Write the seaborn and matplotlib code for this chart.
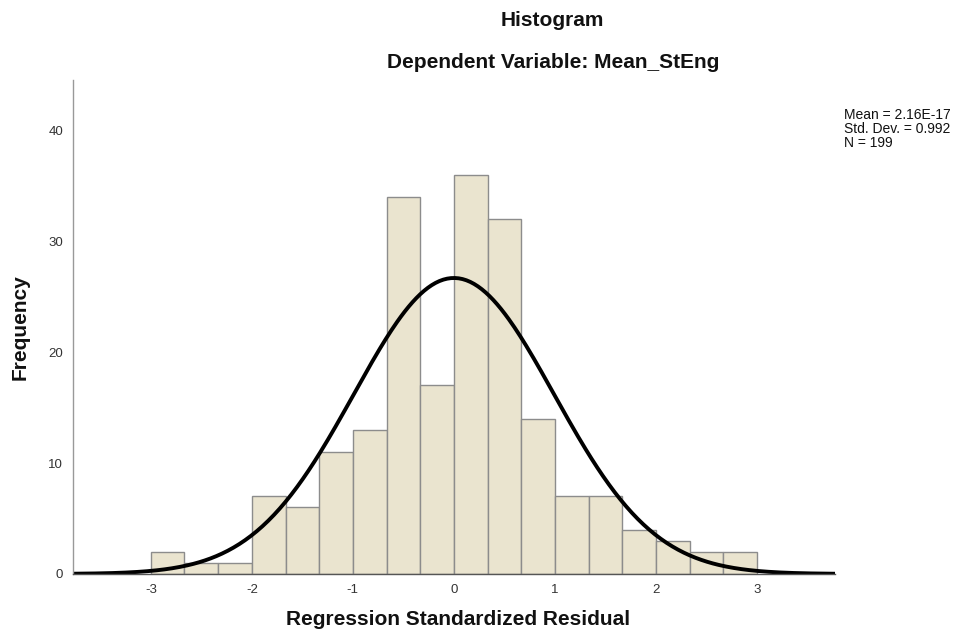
import numpy as np
import pandas as pd
import seaborn as sns
import matplotlib
matplotlib.use('Agg')
import matplotlib.pyplot as plt

# Histogram of regression standardized residuals
bin_edges = [-3 + i / 3 for i in range(19)]
counts = [2, 1, 1, 7, 6, 11, 13, 34, 17, 36, 32, 14, 7, 7, 4, 3, 2, 2]
mean_val = 2.16e-17
std_val = 0.992
n_obs = 199
x_ticks = [-3, -2, -1, 0, 1, 2, 3]
y_ticks = [0, 10, 20, 30, 40]

sns.set_style('white')
plt.rcParams['font.family'] = ['Liberation Sans', 'DejaVu Sans']

fig = plt.figure(figsize=(9.57, 6.42), dpi=100)
ax = fig.add_axes([0.0763, 0.106, 0.796, 0.769])

centers = [(bin_edges[i] + bin_edges[i + 1]) / 2 for i in range(len(counts))]
df = pd.DataFrame({'x': centers, 'w': counts})
sns.histplot(data=df, x='x', weights='w', bins=bin_edges, ax=ax,
             color='#EAE4CF', edgecolor='#8c8c8c', linewidth=1.0, alpha=1)

# Normal curve scaled to the histogram
width = bin_edges[1] - bin_edges[0]
xs = np.linspace(-3.8, 3.8, 400)
ys = n_obs * width * np.exp(-0.5 * ((xs - mean_val) / std_val) ** 2) / (std_val * np.sqrt(2 * np.pi))
sns.lineplot(x=xs, y=ys, ax=ax, color='black', linewidth=2.8)

ax.set_xlim(-3.77, 3.77)
ax.set_ylim(0, 44.5)
ax.set_xticks(x_ticks)
ax.set_xticklabels([str(t) for t in x_ticks])
ax.set_yticks(y_ticks)
ax.tick_params(axis='both', labelsize=9.5, colors='#333333', length=0, pad=7)

for s in ['top', 'right']:
    ax.spines[s].set_visible(False)
ax.spines['left'].set_color('#999999')
ax.spines['bottom'].set_color('#555555')
ax.spines['left'].set_linewidth(1.0)
ax.spines['bottom'].set_linewidth(1.0)

ax.set_xlabel('Regression Standardized Residual', fontsize=15, fontweight='bold', color='#111111')
ax.set_ylabel('Frequency', fontsize=15, fontweight='bold', color='#111111')
ax.xaxis.set_label_coords(0.505, -0.074)
ax.yaxis.set_label_coords(-0.057, 0.5)

fig.text(0.577, 0.968, 'Histogram', ha='center', va='center', fontsize=15, fontweight='bold',
         color='#111111')
fig.text(0.578, 0.903, 'Dependent Variable: Mean_StEng', ha='center', va='center',
         fontsize=15, fontweight='bold', color='#111111')
fig.text(0.882, 0.832, 'Mean = 2.16E-17\nStd. Dev. = 0.992\nN = 199', ha='left', va='top',
         fontsize=10, linespacing=1.0, color='#111111')

plt.savefig('out.png', dpi=100)
plt.close()
